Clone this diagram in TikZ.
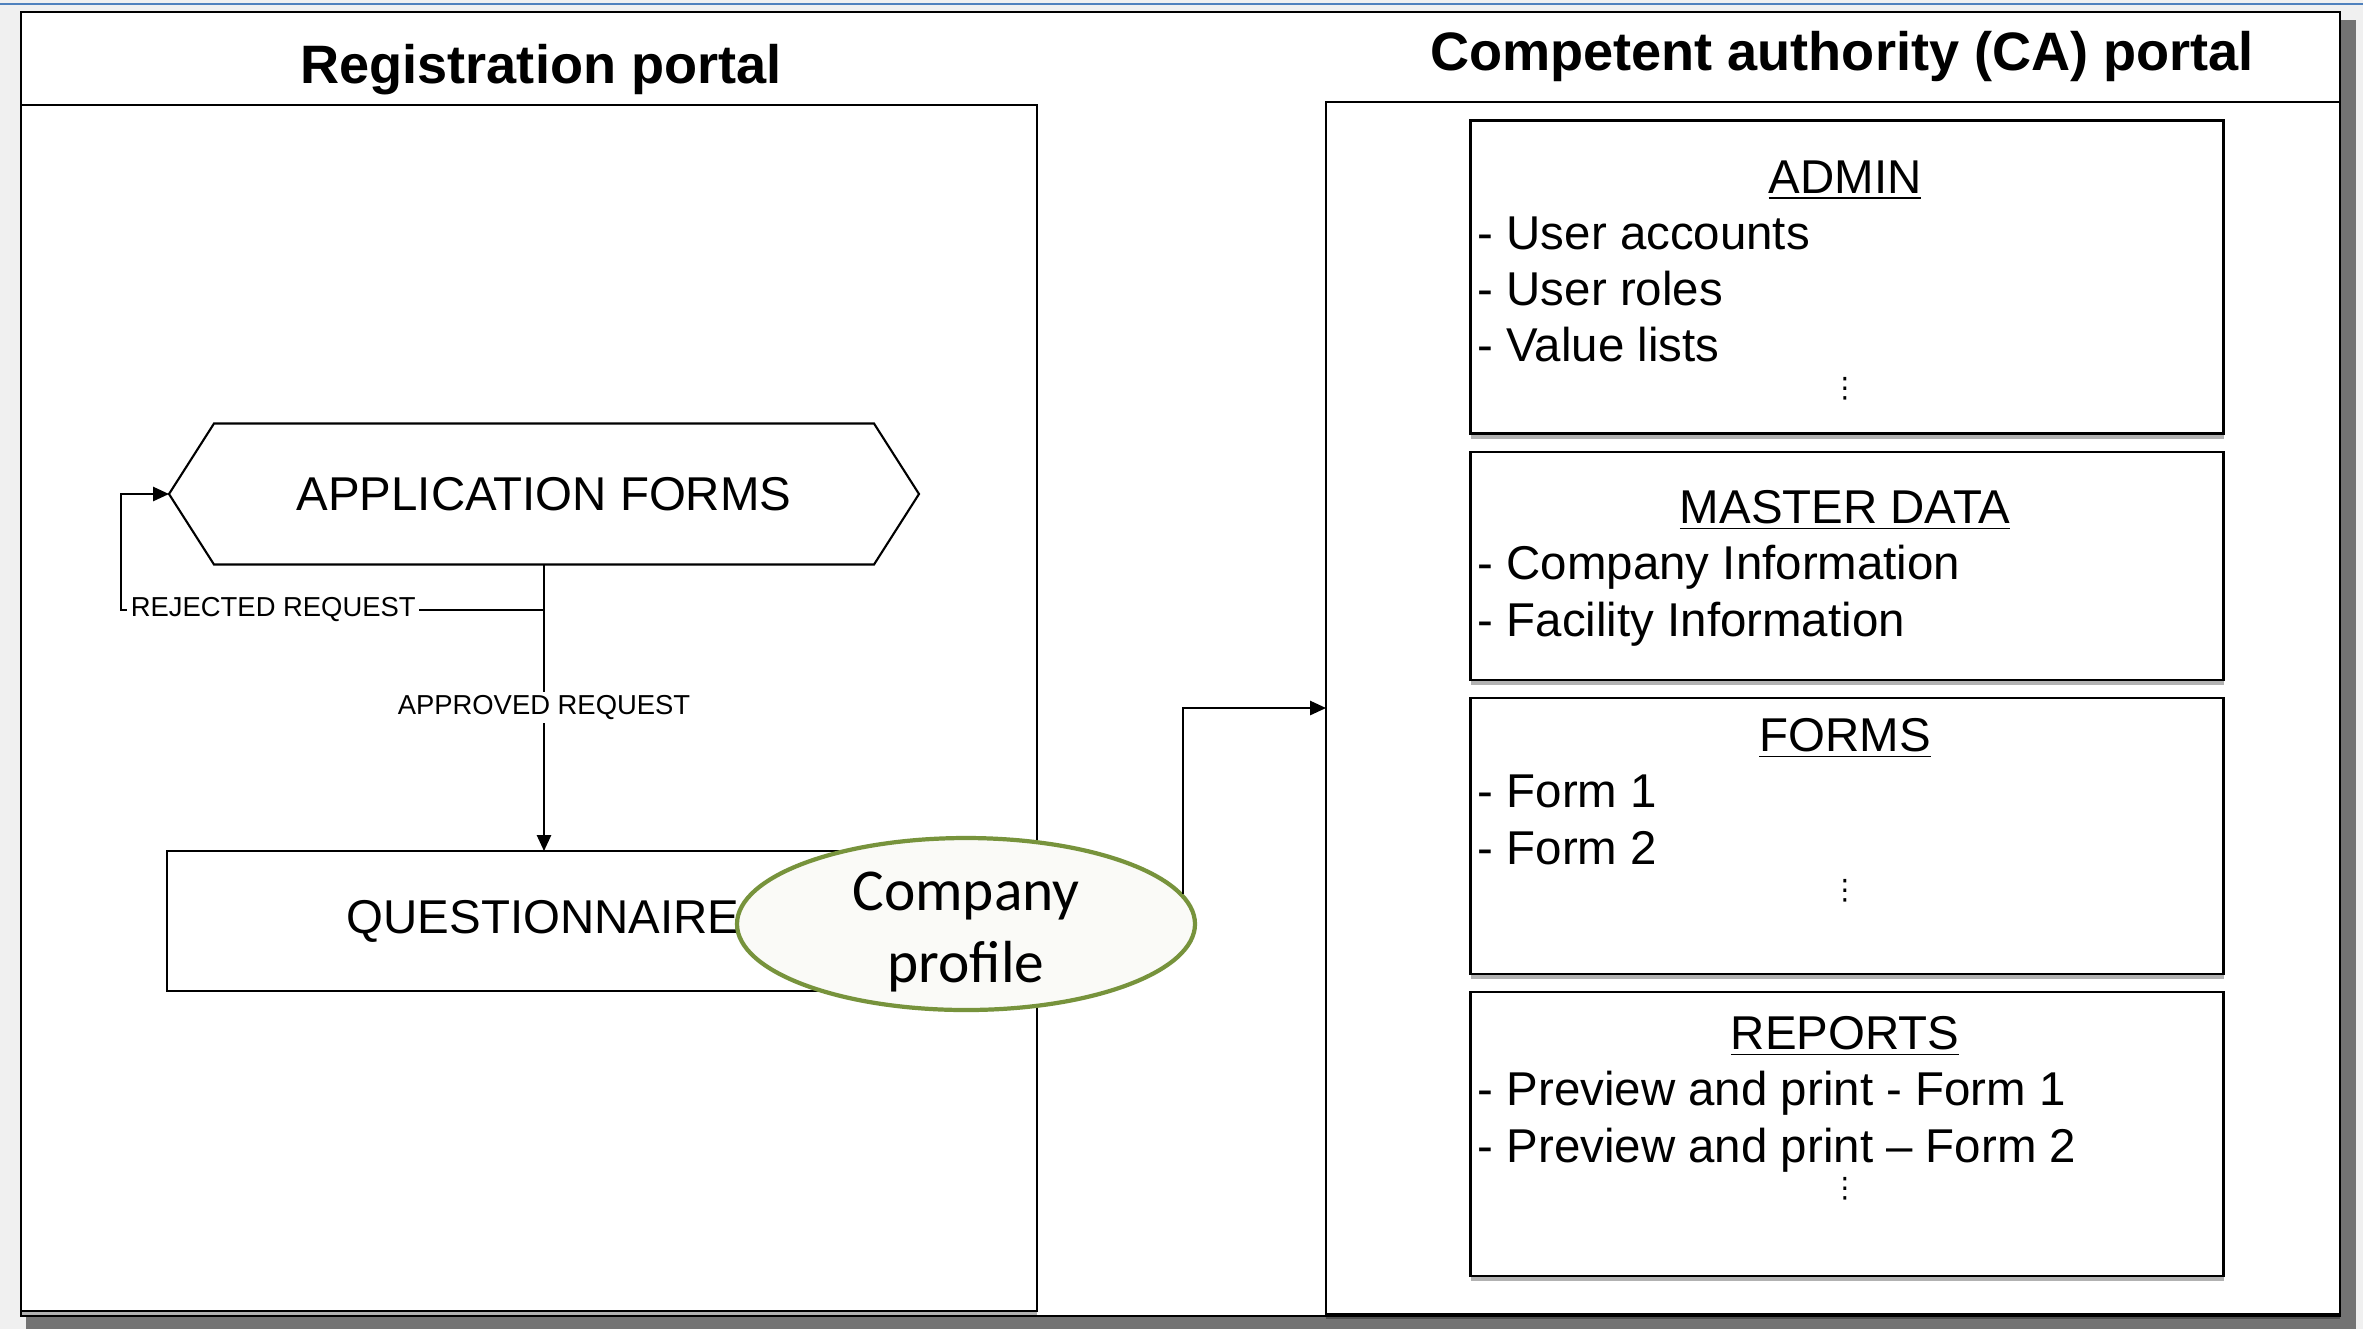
\documentclass[tikz,border=0pt]{standalone}
\usepackage{fontspec}
\setmainfont{Liberation Sans}
\newfontfamily\calibri{Carlito}
\newfontfamily\dejavu{DejaVu Sans}
\usetikzlibrary{shapes.geometric, arrows.meta, positioning, shadows}
\definecolor{olivegreen}{RGB}{119,147,60}
\definecolor{winblue}{RGB}{79,129,189}
\definecolor{profilefill}{RGB}{250,250,247}

\tikzset{
  panel/.style={draw, fill=white, line width=0.6pt, inner sep=0pt, outer sep=0pt,
    drop shadow={shadow xshift=0mm, shadow yshift=-0.5mm, fill=black, opacity=0.3}},
  titletext/.style={font=\fontsize{15.4}{18}\selectfont\bfseries},
  boxtext/.style={font=\fontsize{13.5}{16}\selectfont, inner sep=0pt},
  smalllabel/.style={font=\fontsize{7.8}{9}\selectfont, fill=white, inner sep=1pt},
  flow/.style={line width=0.6pt, -{Triangle[length=4.5pt, width=4pt]}},
  dots/.style={font=\dejavu\fontsize{8}{9}\selectfont, inner sep=0pt},
  profile/.style={ellipse, draw=olivegreen, line width=1.2pt, fill=profilefill,
    minimum width=45.8mm, minimum height=17.2mm, inner sep=0pt},
  profiletext/.style={align=center, inner sep=0pt, font=\calibri\fontsize{16.9}{20.5}\selectfont}
}

\begin{document}
\begin{tikzpicture}[x=0.1mm, y=-0.1mm]
    \useasboundingbox (0,0) rectangle (2363,1329);

    % window frame
    \fill[gray!12] (0,0) rectangle (2363,1329);
    \fill[black!55] (26,20) rectangle (2356,1329);
    \draw[winblue, line width=0.7pt] (0,4) -- (2363,4);
    \draw[line width=0.8pt, fill=white] (21,12) rectangle (2340,1316);

    % portals
    \node[titletext] (regtitle) at (541,70) {Registration portal};
    \node[titletext] (catitle) at (1842,56) {Competent authority (CA) portal};
    \node[panel, minimum width=101.6mm, minimum height=120.6mm] (regbox) at (529,708) {};
    \node[panel, minimum width=101.4mm, minimum height=121.2mm] (cabox) at (1833,708) {};

    % registration flow
    \node[boxtext, minimum width=75mm, minimum height=14.1mm, outer sep=0pt] (appforms) at (544,494) {APPLICATION FORMS};
    \draw[line width=0.6pt] (appforms.west) -- ([xshift=4.5mm]appforms.north west)
        -- ([xshift=-4.5mm]appforms.north east) -- (appforms.east)
        -- ([xshift=-4.5mm]appforms.south east) -- ([xshift=4.5mm]appforms.south west) -- cycle;
    \node[boxtext, draw, line width=0.6pt, minimum width=75.2mm, minimum height=14mm, outer sep=0pt] (quest) at (543,921) {QUESTIONNAIRE};

    \draw[flow] (appforms.south) -- node[smalllabel] {APPROVED REQUEST} (appforms.south |- quest.north);
    \coordinate (split) at (appforms.south |- 0,610);
    \coordinate (loopcorner) at (121,610);
    \draw[flow] (split) -- node[smalllabel, pos=0.64] {REJECTED REQUEST} (loopcorner) |- (appforms.west);

    \node[profile] (profile) at (966,924) {};
    \node[profiletext] (profilelabel) at (966,932) {Company\\profile};
    \draw[flow] (profile.8) |- (cabox.west);

    % CA portal modules
    \node[panel, minimum width=75.3mm, minimum height=31.3mm] (admin) at (1847,277) {};
    \node[panel, minimum width=75.3mm, minimum height=22.8mm] (master) at (1847,566) {};
    \node[panel, minimum width=75.3mm, minimum height=27.6mm] (forms) at (1847,836) {};
    \node[panel, minimum width=75.3mm, minimum height=28.4mm] (reports) at (1847,1134) {};

    \node[boxtext, anchor=base] (admintitle) at (1845,193) {\underline{ADMIN}};
    \node[boxtext, anchor=base west] (admin1) at (1477,249) {- User accounts};
    \node[boxtext, anchor=base west] (admin2) at (1477,305) {- User roles};
    \node[boxtext, anchor=base west] (admin3) at (1477,361) {- Value lists};
    \node[dots] (admindots) at (1845,389) {⋮};

    \node[boxtext, anchor=base] (mastertitle) at (1845,523) {\underline{MASTER DATA}};
    \node[boxtext, anchor=base west] (master1) at (1477,579) {- Company Information};
    \node[boxtext, anchor=base west] (master2) at (1477,636) {- Facility Information};

    \node[boxtext, anchor=base] (formstitle) at (1845,751) {\underline{FORMS}};
    \node[boxtext, anchor=base west] (forms1) at (1477,807) {- Form 1};
    \node[boxtext, anchor=base west] (forms2) at (1477,864) {- Form 2};
    \node[dots] (formsdots) at (1845,891) {⋮};

    \node[boxtext, anchor=base] (reportstitle) at (1845,1049) {\underline{REPORTS}};
    \node[boxtext, anchor=base west] (reports1) at (1477,1105) {- Preview and print - Form 1};
    \node[boxtext, anchor=base west] (reports2) at (1477,1162) {- Preview and print – Form 2};
    \node[dots] (reportsdots) at (1845,1189) {⋮};
\end{tikzpicture}
\end{document}
